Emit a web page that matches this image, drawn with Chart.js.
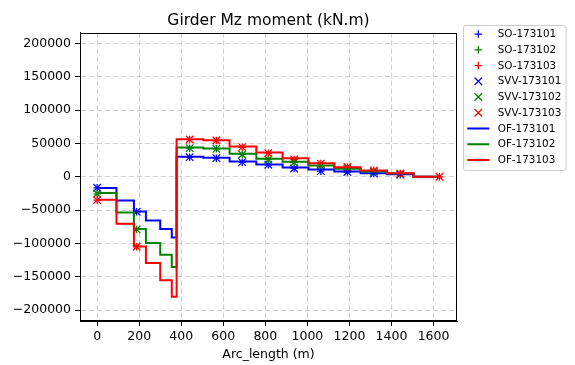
<!DOCTYPE html>
<html>
<head>
<meta charset="utf-8">
<script src="https://cdn.jsdelivr.net/npm/chart.js@4/dist/chart.umd.min.js"></script>
<style>
  html, body { margin: 0; padding: 0; background: #fff; }
  canvas { display: block; }
</style>
</head>
<body>
<canvas id="chart" width="575" height="365"></canvas>
<script>
// --- DATA ---

const xTicks = [0, 200, 400, 600, 800, 1000, 1200, 1400, 1600];
const yTicks = [-200000, -150000, -100000, -50000, 0, 50000, 100000, 150000, 200000];

// marker stations (m)
const stationX = [0, 188, 440, 567, 690, 814, 937, 1064, 1190, 1316, 1442, 1628];

const so173101 = [-16500, -52500, 29500, 28000, 22000, 18000, 12500, 8500, 7200, 4800, 3300, null];
const so173102 = [-25500, -79000, 43000, 42000, 33500, 26000, 21500, 16500, 12000, 7500, 4500, null];
const so173103 = [-35000, -105000, 56000, 54500, 44500, 35500, 26200, 19800, 14700, 9700, 4800, 0];

const svv173101 = [-16500, -52500, 29500, 28000, 22000, 18000, 12500, 8500, 7200, 4800, 3300, null];
const svv173102 = [-25500, -79000, 43000, 42000, 33500, 26000, 21500, 16500, 12000, 7500, 4500, null];
const svv173103 = [-35000, -105000, 56000, 54500, 44500, 35500, 26200, 19800, 14700, 9700, 4800, 0];

// step breakpoints (m), value holds until next breakpoint
const stepX = [0, 92, 175, 232, 300, 355, 378, 505, 630, 757, 882, 1005, 1128, 1253, 1379, 1505, 1630];

const of173101 = [-17000, -35500, -52000, -65500, -78500, -91000, 30000, 28500, 23000, 18500, 14000, 11000, 8000, 5500, 3800, 0, 0];
const of173102 = [-24500, -53500, -78500, -99500, -117000, -135500, 44000, 42500, 34500, 27000, 22500, 17000, 12000, 8000, 4800, 0, 0];
const of173103 = [-34500, -70500, -104500, -129500, -155500, -180000, 56500, 55000, 45500, 36500, 28000, 20500, 14500, 9500, 5400, 0, 0];

const BLUE = '#0000ff';
const GREEN = '#008000';
const RED = '#ff0000';
const FONT = 'DejaVu Sans';

// --- HELPERS ---

const toPoints = (xs, ys) => xs.map((x, i) => ({ x: x, y: ys[i] }));

function markerSet(label, ys, color, style, radius) {
    return {
        label: label,
        data: toPoints(stationX, ys),
        showLine: false,
        pointStyle: style,
        pointRadius: radius,
        pointBorderWidth: 1.25,
        pointBorderColor: color,
        pointBackgroundColor: color,
        borderColor: color
    };
}

function stepSet(label, ys, color) {
    return {
        label: label,
        data: toPoints(stepX, ys),
        stepped: 'before',
        borderColor: color,
        borderWidth: 2,
        pointRadius: 0,
        fill: false
    };
}

const fmt = v => (v < 0 ? '\u2212' + Math.abs(v) : String(v));

// --- PLUGINS ---

// full box around the plot area, like the matplotlib spines
const frame = {
    id: 'frame',
    afterDatasetsDraw(chart) {
        const a = chart.chartArea;
        const ctx = chart.ctx;
        ctx.save();
        ctx.strokeStyle = '#000';
        ctx.lineWidth = 1;
        ctx.strokeRect(Math.round(a.left) + 0.5, Math.round(a.top) + 0.5,
            Math.round(a.right - a.left) - 1, Math.round(a.bottom - a.top) - 1);
        ctx.restore();
    }
};

// legend box outside the axes, on the right
const sideLegend = {
    id: 'sideLegend',
    afterDraw(chart) {
        const ctx = chart.ctx;
        const x0 = 463.5, y0 = 25.5, w = 102.5, h = 145;
        ctx.save();
        ctx.fillStyle = 'rgba(255,255,255,0.8)';
        ctx.strokeStyle = '#cccccc';
        ctx.lineWidth = 1;
        ctx.beginPath();
        ctx.roundRect(x0, y0, w, h, 2.5);
        ctx.fill();
        ctx.stroke();

        ctx.font = '10.4px "' + FONT + '"';
        ctx.textBaseline = 'middle';
        ctx.textAlign = 'left';

        chart.data.datasets.forEach((ds, i) => {
            const y = 34 + i * 15.75;
            const cx = 478.3;
            ctx.strokeStyle = ds.borderColor;
            if (ds.showLine === false) {
                ctx.lineWidth = 1.25;
                ctx.beginPath();
                if (ds.pointStyle === 'cross') {
                    ctx.moveTo(cx - 3.75, y); ctx.lineTo(cx + 3.75, y);
                    ctx.moveTo(cx, y - 3.75); ctx.lineTo(cx, y + 3.75);
                } else {
                    ctx.moveTo(cx - 3.75, y - 3.75); ctx.lineTo(cx + 3.75, y + 3.75);
                    ctx.moveTo(cx - 3.75, y + 3.75); ctx.lineTo(cx + 3.75, y - 3.75);
                }
                ctx.stroke();
            } else {
                ctx.lineWidth = 2;
                ctx.beginPath();
                ctx.moveTo(467.3, y);
                ctx.lineTo(489.3, y);
                ctx.stroke();
            }
            ctx.fillStyle = '#000';
            ctx.fillText(ds.label, 497.7, y + 0.5);
        });
        ctx.restore();
    }
};

// --- CHART ---

const datasets = [
    markerSet('SO-173101', so173101, BLUE, 'cross', 3.75),
    markerSet('SO-173102', so173102, GREEN, 'cross', 3.75),
    markerSet('SO-173103', so173103, RED, 'cross', 3.75),
    markerSet('SVV-173101', svv173101, BLUE, 'crossRot', 5.3),
    markerSet('SVV-173102', svv173102, GREEN, 'crossRot', 5.3),
    markerSet('SVV-173103', svv173103, RED, 'crossRot', 5.3),
    stepSet('OF-173101', of173101, BLUE),
    stepSet('OF-173102', of173102, GREEN),
    stepSet('OF-173103', of173103, RED)
];
// later datasets on top, as in matplotlib
datasets.forEach((ds, i) => { ds.order = datasets.length - i; });

const tickFont = { family: FONT, size: 12.5 };

new Chart(document.getElementById('chart'), {
    type: 'line',
    data: { datasets: datasets },
    plugins: [frame, sideLegend],
    options: {
        responsive: false,
        animation: false,
        events: [],
        layout: { padding: { left: 0, right: 118, top: 0, bottom: 0 } },
        plugins: {
            legend: { display: false },
            tooltip: { enabled: false },
            title: {
                display: true,
                text: 'Girder Mz moment (kN.m)',
                color: '#000',
                fullSize: false,
                font: { family: FONT, size: 15.5, weight: 'normal' },
                padding: { top: 12, bottom: 2 }
            }
        },
        scales: {
            x: {
                type: 'linear',
                min: -81.5,
                max: 1711.5,
                afterBuildTicks: s => { s.ticks = xTicks.map(v => ({ value: v })); },
                afterFit: s => { s.height = 44; },
                ticks: { color: '#000', font: tickFont, padding: 3, maxRotation: 0, callback: v => fmt(v) },
                grid: { color: '#d0d0d0', lineWidth: 1, tickLength: 5, tickColor: '#000', tickWidth: 1 },
                border: { color: '#000', width: 1, dash: [5, 3] },
                title: {
                    display: true,
                    text: 'Arc_length (m)',
                    color: '#000',
                    font: { family: FONT, size: 12.5 },
                    padding: { top: 0, bottom: 3 }
                }
            },
            y: {
                type: 'linear',
                min: -216500,
                max: 216500,
                afterBuildTicks: s => { s.ticks = yTicks.map(v => ({ value: v })); },
                afterFit: s => { s.width = 80; },
                ticks: { color: '#000', font: tickFont, padding: 4, callback: v => fmt(v) },
                grid: { color: '#d0d0d0', lineWidth: 1, tickLength: 5, tickColor: '#000', tickWidth: 1 },
                border: { color: '#000', width: 1, dash: [5, 3] }
            }
        }
    }
});
</script>
</body>
</html>
